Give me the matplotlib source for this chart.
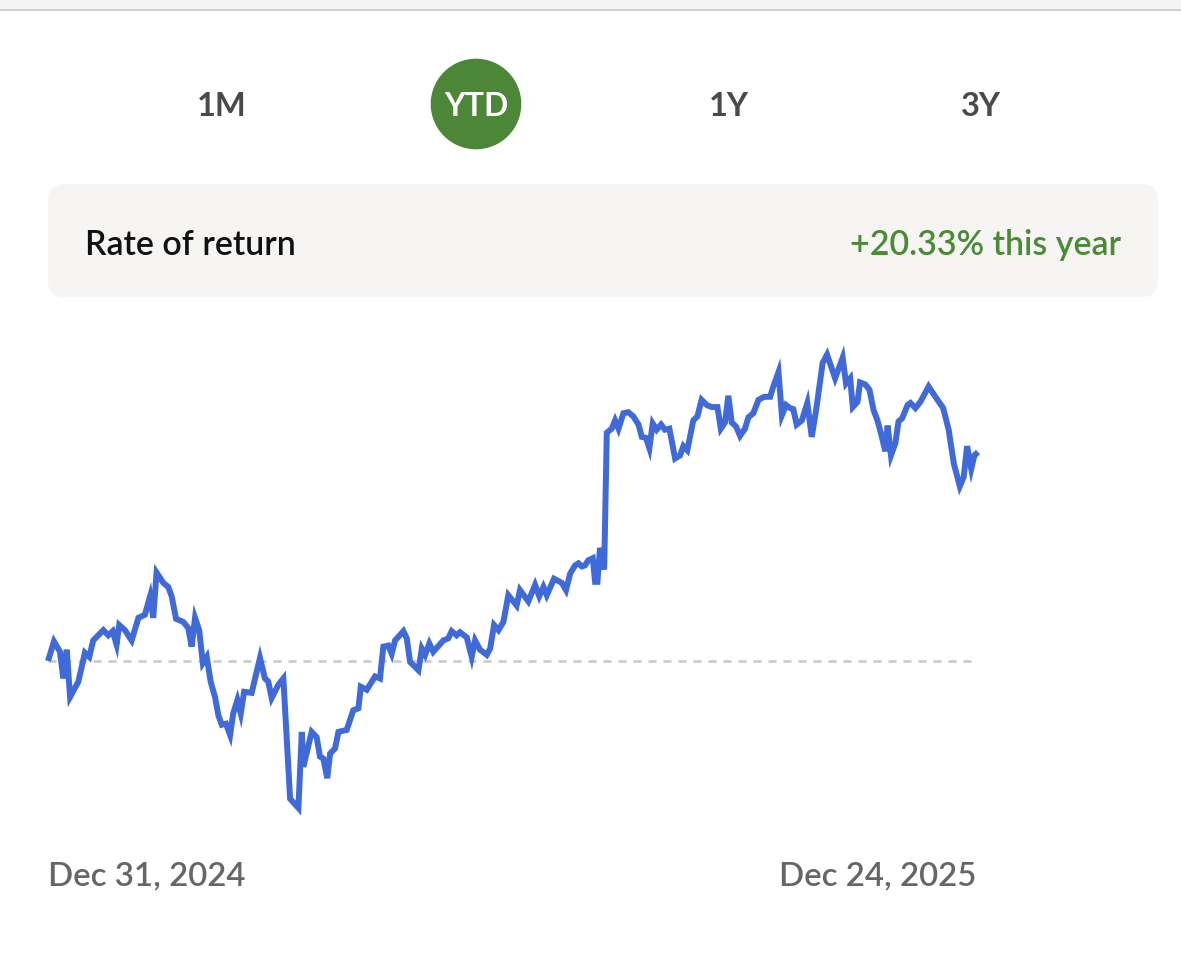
import matplotlib
matplotlib.use("Agg")
import matplotlib.pyplot as plt
from matplotlib.patches import FancyBboxPatch, Circle, Rectangle
from matplotlib.lines import Line2D

plt.rcParams['font.family'] = ['Lato', 'DejaVu Sans']

# ---- data ----
tabs = ["1M", "YTD", "1Y", "3Y"]
selected_tab = "YTD"
summary_label = "Rate of return"
summary_value = "+20.33% this year"
start_label = "Dec 31, 2024"
end_label = "Dec 24, 2025"

# days since Dec 31, 2024
days = [0, 2.3, 4.6, 5.9, 7.2, 8.5, 11.7, 14.2, 15.9, 17.4, 21.3, 23.2, 24.9, 26.4, 27.4,
        29.6, 32.2, 34.8, 37.3, 39.3, 40.5, 41.8, 44.4, 46.3, 47.6, 49.3, 52.1, 54.0, 55.3,
        56.6, 58.2, 59.6, 61.1, 62.6, 64.3, 65.6, 66.9, 68.5, 70.1, 71.3, 72.9, 74.2, 75.5,
        78.4, 81.6, 83.5, 84.8, 86.1, 88.7, 90.6, 93.2, 96.4, 97.7, 98.3, 101.5, 103.4,
        104.7, 106.0, 107.5, 108.6, 110.5, 111.8, 115.0, 117.5, 119.5, 120.4, 122.7, 125.9,
        127.8, 129.1, 131.0, 132.3, 133.6, 136.8, 138.1, 139.4, 142.6, 143.9, 145.2, 146.8,
        148.3, 152.2, 154.1, 155.4, 157.3, 158.6, 161.2, 163.1, 164.4, 166.3, 168.9, 170.2,
        171.7, 173.4, 175.3, 177.2, 180.4, 181.7, 184.9, 187.5, 189.1, 190.7, 192.0, 194.8,
        197.8, 199.4, 201.0, 202.9, 204.2, 205.5, 206.7, 208.0, 209.7, 210.6, 211.5, 212.5,
        214.1, 215.1, 217.0, 218.3, 219.6, 221.5, 223.4, 225.3, 227.3, 228.6, 230.2, 231.5,
        232.8, 234.3, 236.0, 237.5, 239.2, 241.4, 243.3, 244.6, 246.1, 248.4, 250.0, 251.6,
        253.6, 255.5, 257.7, 259.0, 260.6, 261.9, 263.2, 264.9, 266.4, 268.3, 269.6, 271.5,
        273.5, 275.7, 278.0, 279.2, 281.2, 282.5, 284.1, 285.7, 286.9, 288.2, 290.2, 292.3,
        294.0, 295.8, 298.2, 299.9, 303.0, 305.9, 307.2, 308.8, 309.8, 311.6, 312.6, 314.6,
        316.2, 317.8, 319.3, 321.0, 322.3, 323.2, 324.5, 326.2, 327.4, 328.8, 330.9, 332.0,
        333.9, 335.8, 339.0, 341.6, 344.6, 346.7, 348.7, 351.0, 352.5, 353.8, 355.4, 356.6,
        358]
# cumulative return, %
returns = [0.0, 1.9, 0.9, -1.7, 1.1, -3.5, -2.0, 0.8, 0.4, 2.0, 3.0, 2.5, 2.9, 1.6, 3.5,
           3.0, 2.0, 4.2, 4.5, 6.3, 4.2, 8.6, 7.6, 7.2, 6.3, 4.1, 3.8, 3.2, 1.4,
           4.2, 3.0, -0.2, 0.4, -2.0, -3.5, -5.3, -6.2, -6.1, -7.2, -5.1, -3.8, -5.1, -3.0,
           -3.1, 0.3, -1.7, -2.0, -3.6, -2.3, -1.7, -13.4, -14.3, -6.9, -10.3, -6.9, -7.4,
           -9.3, -9.5, -11.4, -9.0, -8.5, -6.9, -6.7, -4.8, -4.6, -2.5, -2.8, -1.5,
           -1.7, 1.4, 1.5, 0.7, 2.0, 2.9, 2.2, -0.1, -0.9, 1.2, 0.6, 1.7,
           0.9, 2.0, 2.2, 2.9, 2.5, 2.8, 2.3, 0.4, 2.0, 1.1, 0.6, 1.2,
           3.5, 3.0, 3.8, 6.4, 5.4, 6.9, 5.8, 7.4, 6.3, 7.2, 6.4, 8.0,
           7.6, 6.9, 8.5, 9.3, 9.5, 9.2, 9.3, 9.8, 10.0, 7.7, 7.7, 11.0,
           8.9, 22.2, 22.6, 23.4, 22.6, 24.1, 24.2, 23.8, 23.0, 21.8, 21.7, 20.7,
           23.1, 22.5, 23.0, 22.5, 22.6, 19.7, 20.0, 20.9, 20.5, 23.4, 23.8, 25.4,
           24.9, 24.7, 24.7, 22.6, 23.2, 25.8, 23.2, 22.8, 21.9, 22.6, 23.7, 24.1,
           25.4, 25.7, 25.7, 26.7, 28.1, 23.9, 24.9, 24.6, 24.5, 23.0, 23.4, 25.1,
           21.8, 24.6, 29.0, 29.8, 27.5, 29.5, 27.0, 27.5, 24.7, 25.2, 27.1, 26.9,
           26.4, 24.4, 23.4, 21.8, 20.4, 22.9, 20.0, 21.2, 23.3, 23.6, 24.9, 25.1,
           24.6, 25.2, 26.7, 25.7, 24.6, 22.5, 19.2, 17.0, 17.9, 20.9, 18.7, 20.0,
           20.33]

W, H = 1181, 973
fig = plt.figure(figsize=(W / 100, H / 100), dpi=100)
fig.patch.set_facecolor("white")


def fx(x):
    return x / W


def fy(y):
    return 1 - y / H


# top browser strip
fig.patches.append(Rectangle((0, fy(9.5)), 1, 9.5 / H, transform=fig.transFigure,
                             facecolor="#f5f4f3", edgecolor="none"))
fig.lines.append(Line2D([0, 1], [fy(9.5), fy(9.5)], transform=fig.transFigure,
                        color="#c9c9c9", lw=1.2))

# tabs
tab_x = [222, 476, 729, 981]
tab_y = 104
green = "#4b8736"
for t, x in zip(tabs, tab_x):
    if t == selected_tab:
        ax_c = fig.add_axes([fx(x - 46), fy(tab_y + 46), 92 / W, 92 / H])
        ax_c.set_xlim(-1, 1)
        ax_c.set_ylim(-1, 1)
        ax_c.add_patch(Circle((0, 0), 0.985, facecolor=green, edgecolor="none"))
        ax_c.axis("off")
        fig.text(fx(x), fy(tab_y), t, ha="center", va="center_baseline", color="white",
                 fontsize=23, fontweight="bold")
    else:
        fig.text(fx(x), fy(tab_y), t, ha="center", va="center_baseline", color="#4a4a4a",
                 fontsize=23.5, fontweight="bold")

# summary box
box_l, box_t, box_r, box_b = 48, 184, 1158, 297
fig.patches.append(FancyBboxPatch((fx(box_l + 16), fy(box_b - 16)),
                                  (box_r - box_l - 32) / W, (box_b - box_t - 32) / H,
                                  boxstyle="round,pad=0.0135,rounding_size=0.0135",
                                  transform=fig.transFigure, facecolor="#f6f5f4",
                                  edgecolor="none", mutation_aspect=W / H))
fig.text(fx(85), fy(242), summary_label, ha="left", va="center_baseline", color="#111111",
         fontsize=24.5, fontweight="semibold")
fig.text(fx(1121), fy(242), summary_value, ha="right", va="center_baseline", color="#4b8a36",
         fontsize=24.5, fontweight="semibold")

# chart
x0, x1 = 48, 978
ax_top, ax_bot = 340, 820
ax = fig.add_axes([fx(x0), fy(ax_bot), (x1 - x0) / W, (ax_bot - ax_top) / H])
ax.set_xlim(days[0], days[-1])
px_per_pct = (661 - 452) / 20.33
ax.set_ylim(-(ax_bot - 661) / px_per_pct, (661 - ax_top) / px_per_pct)
ax.axhline(0, xmax=0.997, color="#cdcdcd", lw=2.0, ls=(0, (2.9, 2.5)), zorder=1)
ax.plot(days, returns, color="#3f6ad8", lw=4.3, solid_joinstyle="miter",
        solid_capstyle="butt", zorder=2, clip_on=False)
ax.axis("off")

fig.text(fx(48), fy(873), start_label, ha="left", va="center_baseline", color="#666666",
         fontsize=23.8, fontweight="semibold")
fig.text(fx(976), fy(873), end_label, ha="right", va="center_baseline", color="#666666",
         fontsize=23.8, fontweight="semibold")

fig.savefig("out.png", dpi=100, facecolor="white")
